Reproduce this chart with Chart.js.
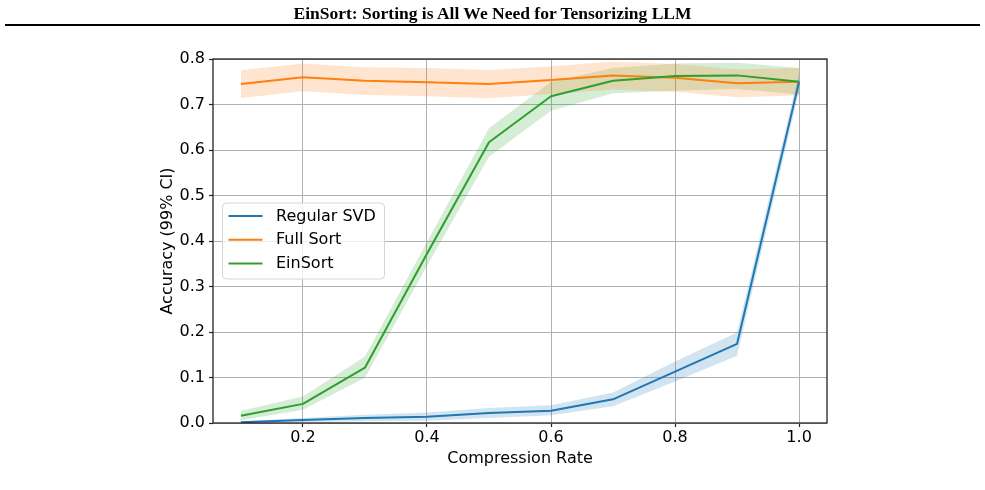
<!DOCTYPE html>
<html>
<head>
<meta charset="utf-8">
<script src="https://cdn.jsdelivr.net/npm/chart.js@4.4.0/dist/chart.umd.min.js"></script>
<style>
html,body{margin:0;padding:0;background:#fff;}
#wrap{position:relative;width:985px;height:490px;overflow:hidden;background:#fff;}
canvas{position:absolute;left:0;top:0;}
#title{position:absolute;left:0;top:0;width:985px;text-align:center;font-family:'Liberation Serif','Times New Roman',serif;font-weight:bold;font-size:17.5px;line-height:26px;color:#000;}
#rule{position:absolute;left:5px;top:24px;width:975px;height:2px;background:#000;}
</style>
</head>
<body>
<div id="wrap">
<canvas id="c" width="985" height="490"></canvas>
<div id="title">EinSort: Sorting is All We Need for Tensorizing LLM</div>
<div id="rule"></div>
</div>
<script>
// ---- data ----
const compressionRates = [0.1, 0.2, 0.3, 0.4, 0.5, 0.6, 0.7, 0.8, 0.9, 1.0];
const xTickValues = [0.2, 0.4, 0.6, 0.8, 1.0];
const yTickValues = [0.0, 0.1, 0.2, 0.3, 0.4, 0.5, 0.6, 0.7, 0.8];
const seriesLabels = ['Regular SVD', 'Full Sort', 'EinSort'];

const svdMean  = [0.0015, 0.0065, 0.011, 0.0135, 0.022, 0.027, 0.052, 0.113, 0.174, 0.750];
const svdLower = [0.000, 0.002, 0.004, 0.005, 0.011, 0.017, 0.037, 0.091, 0.148, 0.730];
const svdUpper = [0.004, 0.011, 0.018, 0.023, 0.033, 0.039, 0.067, 0.135, 0.199, 0.770];

const fullMean  = [0.745, 0.760, 0.752, 0.749, 0.745, 0.754, 0.764, 0.759, 0.7465, 0.750];
const fullLower = [0.714, 0.729, 0.721, 0.718, 0.714, 0.723, 0.733, 0.728, 0.716, 0.720];
const fullUpper = [0.775, 0.790, 0.782, 0.780, 0.776, 0.784, 0.794, 0.789, 0.777, 0.780];

const einMean  = [0.016, 0.042, 0.1215, 0.372, 0.617, 0.718, 0.752, 0.7625, 0.764, 0.750];
const einLower = [0.006, 0.029, 0.0996, 0.345, 0.585, 0.686, 0.725, 0.730, 0.734, 0.722];
const einUpper = [0.027, 0.058, 0.146, 0.398, 0.648, 0.750, 0.780, 0.790, 0.792, 0.780];

// ---- styling ----
const PLOT = {left: 213, right: 827, top: 59, bottom: 423};
const W = 985, H = 490;
Chart.defaults.font.family = "'DejaVu Sans', sans-serif";
Chart.defaults.font.size = 16;
Chart.defaults.color = '#000';

function pts(arr) { return compressionRates.map((x, i) => ({x: x, y: arr[i]})); }

const series = [
  {label: seriesLabels[0], color: '#1f77b4', band: 'rgba(31,119,180,0.2)', mean: svdMean, lo: svdLower, hi: svdUpper, order: 2},
  {label: seriesLabels[1], color: '#ff7f0e', band: 'rgba(255,127,14,0.2)', mean: fullMean, lo: fullLower, hi: fullUpper, order: 1},
  {label: seriesLabels[2], color: '#2ca02c', band: 'rgba(44,160,44,0.2)', mean: einMean, lo: einLower, hi: einUpper, order: 0}
];

const datasets = [];
series.forEach(s => {
  datasets.push({label: s.label + ' upper', data: pts(s.hi), borderColor: 'rgba(0,0,0,0)', borderWidth: 0.01,
    pointRadius: 0, fill: false, order: 10, tension: 0});
  datasets.push({label: s.label + ' lower', data: pts(s.lo), borderColor: 'rgba(0,0,0,0)', borderWidth: 0.01,
    pointRadius: 0, fill: '-1', backgroundColor: s.band, order: 10, tension: 0});
});
series.forEach(s => {
  datasets.push({label: s.label, data: pts(s.mean), borderColor: s.color, backgroundColor: s.color,
    borderWidth: 2, pointRadius: 0, fill: false, order: s.order, tension: 0,
    borderJoinStyle: 'round', isMain: true});
});

const framePlugin = {
  id: 'frame',
  afterDatasetsDraw(chart) {
    const {ctx, chartArea: a} = chart;
    ctx.save();
    ctx.strokeStyle = '#222';
    ctx.lineWidth = 1.3;
    ctx.strokeRect(a.left, a.top, a.right - a.left, a.bottom - a.top);
    ctx.restore();
  }
};

const legendPlugin = {
  id: 'mplLegend',
  afterDraw(chart) {
    const {ctx, chartArea: a} = chart;
    const mains = chart.data.datasets.filter(d => d.isMain);
    const bw = 162, bh = 76;
    const bx = a.left + 9.5;
    const by = (a.top + a.bottom) / 2 - bh / 2;
    ctx.save();
    ctx.beginPath();
    const r = 4;
    ctx.moveTo(bx + r, by);
    ctx.arcTo(bx + bw, by, bx + bw, by + bh, r);
    ctx.arcTo(bx + bw, by + bh, bx, by + bh, r);
    ctx.arcTo(bx, by + bh, bx, by, r);
    ctx.arcTo(bx, by, bx + bw, by, r);
    ctx.closePath();
    ctx.fillStyle = 'rgba(255,255,255,0.8)';
    ctx.fill();
    ctx.strokeStyle = '#d6d6d6';
    ctx.lineWidth = 1;
    ctx.stroke();
    ctx.font = "16px 'DejaVu Sans', sans-serif";
    ctx.textBaseline = 'middle';
    ctx.textAlign = 'left';
    mains.forEach((d, i) => {
      const cy = by + 13 + i * 23.8;
      ctx.beginPath();
      ctx.strokeStyle = d.borderColor;
      ctx.lineWidth = 2;
      ctx.moveTo(bx + 6, cy);
      ctx.lineTo(bx + 40, cy);
      ctx.stroke();
      ctx.fillStyle = '#000';
      ctx.fillText(d.label, bx + 53.5, cy + 0.5);
    });
    ctx.restore();
  }
};

const gridCommon = {color: '#b0b0b0', lineWidth: 1, tickLength: 4, tickColor: '#222', tickWidth: 1.2, drawTicks: true};

new Chart(document.getElementById('c'), {
  type: 'line',
  data: {datasets: datasets},
  options: {
    responsive: false,
    animation: false,
    devicePixelRatio: 1,
    events: [],
    layout: {padding: {left: 0, top: PLOT.top, right: W - PLOT.right, bottom: 0}},
    plugins: {legend: {display: false}, tooltip: {enabled: false}},
    scales: {
      x: {
        type: 'linear', min: 0.055, max: 1.045,
        afterBuildTicks: s => { s.ticks = xTickValues.map(v => ({value: v})); },
        afterFit: s => { s.height = H - PLOT.bottom; },
        ticks: {callback: v => Number(v).toFixed(1), padding: 1.4, maxRotation: 0, autoSkip: false},
        grid: gridCommon,
        border: {display: false},
        title: {display: true, text: 'Compression Rate', padding: {top: 0, bottom: 21.4}}
      },
      y: {
        type: 'linear', min: 0, max: 0.8,
        afterBuildTicks: s => { s.ticks = yTickValues.map(v => ({value: v})); },
        afterFit: s => { s.width = PLOT.left; },
        ticks: {callback: v => Number(v).toFixed(1), padding: 4, autoSkip: false},
        grid: gridCommon,
        border: {display: false},
        title: {display: true, text: 'Accuracy (99% CI)', padding: {top: 158.4, bottom: 0}}
      }
    }
  },
  plugins: [framePlugin, legendPlugin]
});
</script>
</body>
</html>
